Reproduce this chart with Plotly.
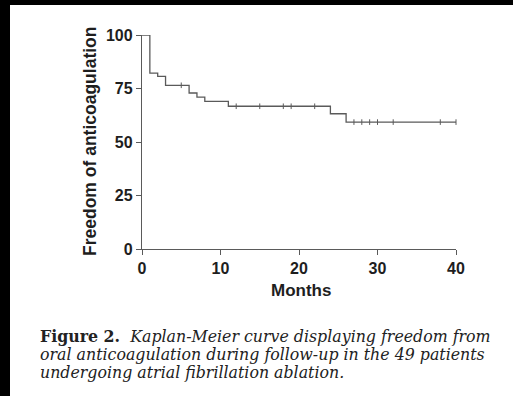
import plotly.graph_objects as go

# Kaplan-Meier estimate (%) of freedom from oral anticoagulation
event_months = [0, 1, 2, 3, 6, 7, 8, 11, 24, 26, 40]
survival_pct = [100, 82.2, 80.7, 76.5, 72.9, 71.0, 69.0, 66.7, 63.2, 59.3, 59.3]
# censored follow-up times (months)
censor_months = [5, 12, 15, 18, 19, 22, 27, 28, 29, 30, 32, 38, 40]

x_ticks = [0, 10, 20, 30, 40]
y_ticks = [0, 25, 50, 75, 100]

caption_lines = [
    "<b>Figure 2.</b>  <i>Kaplan-Meier curve displaying freedom from</i>",
    "<i>oral anticoagulation during follow-up in the 49 patients</i>",
    "<i>undergoing atrial fibrillation ablation.</i>",
]


def level_at(t):
    """Step-function value of the survival curve at time t."""
    val = survival_pct[0]
    for m, s in zip(event_months, survival_pct):
        if m <= t:
            val = s
    return val


censor_levels = [level_at(t) for t in censor_months]

W, H = 513, 396
ML, MR, MT, MB = 142, 57, 35, 147
PW, PH = W - ML - MR, H - MT - MB


def px(x):
    return (x - ML) / PW


def py(y):
    return (H - MB - y) / PH


LINE = "#5a5a5a"
TEXT = "#1e1e1e"
SANS = "Liberation Sans, Arial, sans-serif"
SERIF = "DejaVu Serif, serif"

fig = go.Figure()
fig.add_trace(go.Scatter(
    x=event_months, y=survival_pct, mode="lines",
    line=dict(shape="hv", color=LINE, width=1.3),
    cliponaxis=False, hoverinfo="skip", showlegend=False,
))
fig.add_trace(go.Scatter(
    x=censor_months, y=censor_levels, mode="markers",
    marker=dict(symbol="line-ns", size=4, line=dict(color=LINE, width=1)),
    cliponaxis=False, hoverinfo="skip", showlegend=False,
))

annotations = [
    dict(text="Freedom of anticoagulation", xref="paper", yref="paper",
         x=px(90), y=0.5, xanchor="center", yanchor="middle", textangle=-90,
         showarrow=False, font=dict(family=SANS, size=17.5, color=TEXT, weight="bold")),
    dict(text="Months", xref="paper", yref="paper",
         x=px(301), y=py(290), xanchor="center", yanchor="middle",
         showarrow=False, font=dict(family=SANS, size=17, color=TEXT, weight="bold")),
]
for i, line in enumerate(caption_lines):
    annotations.append(dict(
        text=line, xref="paper", yref="paper", x=px(38), y=py(336 + 18.5 * i),
        xanchor="left", yanchor="middle", showarrow=False, align="left",
        font=dict(family=SERIF, size=15.8, color="#222222"),
    ))

fig.update_layout(
    width=W, height=H,
    margin=dict(l=ML, r=MR, t=MT, b=MB),
    paper_bgcolor="black", plot_bgcolor="white",
    shapes=[dict(type="rect", xref="paper", yref="paper", layer="below",
                 x0=px(10), x1=px(W + 5), y0=py(H + 5), y1=py(5),
                 fillcolor="white", line=dict(width=0))],
    annotations=annotations,
    xaxis=dict(range=[0, 40], tickvals=x_ticks, showgrid=False, zeroline=False,
               showline=True, linecolor=LINE, linewidth=1.3,
               ticks="outside", ticklen=5, tickcolor=LINE, tickwidth=1.3,
               tickfont=dict(family=SANS, size=16, color=TEXT, weight="bold")),
    yaxis=dict(range=[0, 100], tickvals=y_ticks, showgrid=False, zeroline=False,
               showline=True, linecolor=LINE, linewidth=1.3,
               ticks="outside", ticklen=5, tickcolor=LINE, tickwidth=1.3,
               tickfont=dict(family=SANS, size=16, color=TEXT, weight="bold")),
)

fig.write_html("out.html")
